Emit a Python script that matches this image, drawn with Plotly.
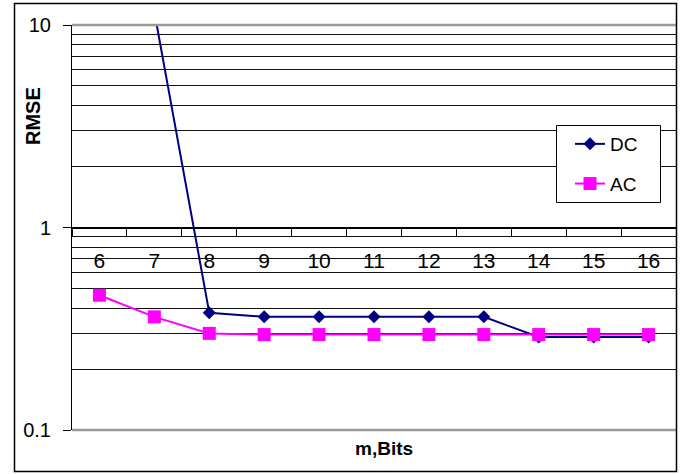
import plotly.graph_objects as go

bits = ["6", "7", "8", "9", "10", "11", "12", "13", "14", "15", "16"]
dc_rmse = [None, 11.6, 0.379, 0.362, 0.362, 0.362, 0.362, 0.362, 0.288, 0.288, 0.288]
ac_rmse = [0.463, 0.362, 0.300, 0.296, 0.296, 0.296, 0.296, 0.296, 0.296, 0.296, 0.296]

y_major = [0.1, 1, 10]
y_major_text = ["0.1", "1", "10"]
y_minor = [0.2, 0.3, 0.4, 0.5, 0.6, 0.7, 0.8, 0.9, 2, 3, 4, 5, 6, 7, 8, 9]

FONT = "Liberation Sans, Arial, sans-serif"
W, H = 681, 474
ML, MR, MT, MB = 72, 5, 25, 44
PW, PH = W - ML - MR, H - MT - MB

def px_x(p):
    return (p - ML) / PW

def px_y(p):
    return (H - MB - p) / PH

fig = go.Figure()
fig.add_trace(go.Scatter(
    x=bits, y=dc_rmse, name="DC", mode="lines+markers", legendgroup="dc",
    line=dict(color="#000080", width=2),
    marker=dict(symbol="diamond", size=10, color="#000080"),
))
fig.add_trace(go.Scatter(
    x=bits, y=ac_rmse, name="AC", mode="lines+markers", legendgroup="ac",
    line=dict(color="#FF00FF", width=2),
    marker=dict(symbol="square", size=13, color="#FF00FF"),
))

fig.update_layout(
    width=W, height=H,
    margin=dict(l=ML, r=MR, t=MT, b=MB, pad=0),
    paper_bgcolor="white", plot_bgcolor="white",
    font=dict(family=FONT, color="black"),
    showlegend=True,
    legend=dict(
        x=px_x(570), y=px_y(125), xanchor="left", yanchor="top",
        bgcolor="rgba(0,0,0,0)", borderwidth=0,
        font=dict(size=19, family=FONT, color="black"),
        tracegroupgap=12, itemwidth=30,
    ),
    xaxis=dict(
        type="category", anchor="free", position=0.5,
        showline=True, linecolor="black", linewidth=1,
        ticks="outside", tickson="boundaries", ticklen=8, tickcolor="black",
        tickfont=dict(size=21, family=FONT, color="black"),
        ticklabelstandoff=14,
        showgrid=False, zeroline=False,
        range=[-0.5, 10.5],
    ),
    yaxis=dict(
        type="log", range=[-1, 1],
        tickmode="array", tickvals=y_major, ticktext=y_major_text,
        ticks="outside", ticklen=8, tickcolor="black",
        tickfont=dict(size=20, family=FONT, color="black"),
        ticklabelstandoff=8,
        showline=True, linecolor="black", linewidth=1,
        showgrid=True, gridcolor="black", gridwidth=1,
        zeroline=False,
        minor=dict(tickmode="array", tickvals=y_minor, showgrid=True,
                   gridcolor="#111111", gridwidth=1, ticks=""),
    ),
    shapes=[
        dict(type="line", xref="paper", yref="paper", x0=0, x1=1, y0=1, y1=1,
             line=dict(color="#9a9a9a", width=2.5)),
        dict(type="line", xref="paper", yref="paper", x0=0, x1=1, y0=0, y1=0,
             line=dict(color="#9a9a9a", width=2.5)),
        dict(type="rect", xref="paper", yref="paper",
             x0=px_x(14.5), x1=px_x(676.5), y0=px_y(471.5), y1=px_y(3.5),
             line=dict(color="black", width=1.5), fillcolor="rgba(0,0,0,0)"),
        # legend box
        dict(type="rect", xref="paper", yref="paper", layer="above",
             x0=px_x(556.5), x1=px_x(660.5), y0=px_y(202.5), y1=px_y(125.5),
             line=dict(color="black", width=1), fillcolor="white"),
    ],
    annotations=[
        dict(text="<b>RMSE</b>", xref="paper", yref="paper",
             x=px_x(33), y=px_y(116), textangle=-90, showarrow=False,
             font=dict(size=20, family=FONT, color="black"),
             xanchor="center", yanchor="middle"),
        dict(text="<b>m,Bits</b>", xref="paper", yref="paper",
             x=px_x(384), y=px_y(448), showarrow=False,
             font=dict(size=19, family=FONT, color="black"),
             xanchor="center", yanchor="middle"),
    ],
)

fig.write_html(
    "out.html",
    config={"displayModeBar": False},
    post_script="document.body.style.margin='0';document.body.style.padding='0';",
)
